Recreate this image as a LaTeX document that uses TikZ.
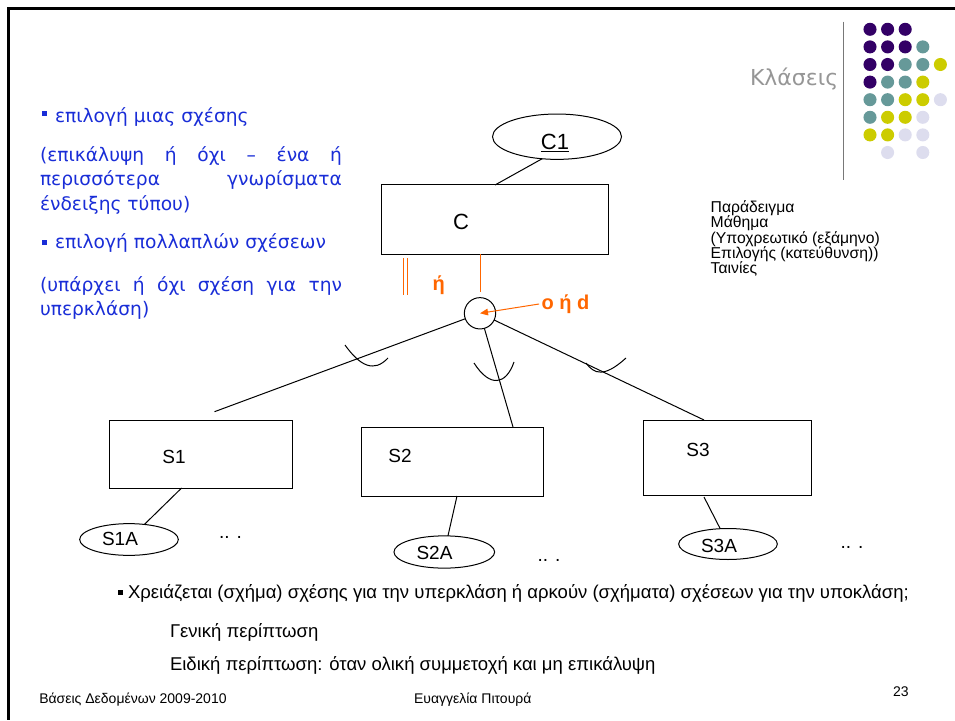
\documentclass[tikz,border=0pt]{standalone}
\usepackage{fontspec}
\setmainfont{Liberation Sans}
\newfontfamily\handfont{DejaVu Sans}
\usetikzlibrary{arrows.meta,shapes.geometric}

\definecolor{slideblue}{RGB}{25,45,215}
\definecolor{hiorange}{RGB}{255,102,0}
\definecolor{dotpurple}{RGB}{51,0,102}
\definecolor{dotteal}{RGB}{102,153,153}
\definecolor{dotyellow}{RGB}{204,204,0}
\definecolor{dotlilac}{RGB}{221,221,238}
\definecolor{titlegray}{RGB}{150,150,150}
\definecolor{rulegray}{RGB}{120,120,120}

\begin{document}
\begin{tikzpicture}[x=0.75pt,y=-0.75pt,
  every node/.style={inner sep=0pt,outer sep=0pt},
  entity/.style={draw,line width=0.75pt,rectangle},
  attr/.style={draw,line width=0.75pt,ellipse},
  link/.style={line width=0.75pt},
  hl/.style={draw=hiorange,line width=0.75pt},
  bluetxt/.style={anchor=base west,text=slideblue,font=\handfont\fontsize{14}{16}\selectfont},
  diagtxt/.style={anchor=base,font=\fontsize{14.25}{17}\selectfont},
  bigtxt/.style={anchor=base,font=\fontsize{16.5}{19}\selectfont},
  hltxt/.style={anchor=base west,text=hiorange,font=\bfseries\fontsize{15}{17}\selectfont},
  bodytxt/.style={anchor=base west,font=\fontsize{13.9}{16}\selectfont},
  notetxt/.style={anchor=base west,font=\fontsize{11.8}{12}\selectfont},
  foottxt/.style={anchor=base west,font=\fontsize{10.5}{12}\selectfont},
  dot/.style={circle,minimum size=9.8pt}
]
\useasboundingbox (0,0) rectangle (955,720);

% slide frame
\draw[line width=2.5pt] (955,8.3) -- (8.3,8.3) -- (8.3,720);

% title and decoration
\node[anchor=base west,text=titlegray,font=\handfont\fontsize{16.5}{19}\selectfont] (title) at (750,86) {Κλάσεις};
\draw[rulegray,line width=1pt] (843.3,21.7) -- (843.3,180);
\foreach \c/\r/\col in {
  1/1/dotpurple,2/1/dotpurple,3/1/dotpurple,
  1/2/dotpurple,2/2/dotpurple,3/2/dotpurple,4/2/dotteal,
  1/3/dotpurple,2/3/dotpurple,3/3/dotteal,4/3/dotteal,5/3/dotyellow,
  1/4/dotpurple,2/4/dotteal,3/4/dotteal,4/4/dotyellow,
  1/5/dotteal,2/5/dotteal,3/5/dotyellow,4/5/dotyellow,5/5/dotlilac,
  1/6/dotteal,2/6/dotyellow,3/6/dotyellow,4/6/dotlilac,
  1/7/dotyellow,2/7/dotyellow,3/7/dotlilac,4/7/dotlilac,
  2/8/dotlilac,4/8/dotlilac}
  \node[dot,fill=\col] (dot-\c-\r) at ({870+(\c-1)*17.6},{29.3+(\r-1)*17.6}) {};

% left column of notes
\fill[slideblue] (41.7,111.5) rectangle (46.7,116.5);
\node[bluetxt] (b1) at (55,123) {επιλογή μιας σχέσης};
\node[bluetxt] (b2) at (40,161.5) {\makebox[226.5pt][s]{(επικάλυψη ή όχι – ένα ή}};
\node[bluetxt] (b3) at (40,186) {\makebox[226.5pt][s]{περισσότερα γνωρίσματα}};
\node[bluetxt] (b4) at (40,210.5) {ένδειξης τύπου)};
\fill[slideblue] (41.7,240) rectangle (46.7,245);
\node[bluetxt] (b5) at (55,248) {επιλογή πολλαπλών σχέσεων};
\node[bluetxt] (b6) at (40,291.5) {\makebox[226.5pt][s]{(υπάρχει ή όχι σχέση για την}};
\node[bluetxt] (b7) at (40,315) {υπερκλάση)};

% example list
\foreach \txt [count=\i] in {Παράδειγμα,Μάθημα,(Υποχρεωτικό (εξάμηνο),Επιλογής (κατεύθυνση)),Ταινίες}
  \node[notetxt] (note\i) at ({710.7},{212.7+15.2*(\i-1)}) {\txt};

% superclass
\node[attr,minimum width=96.75pt,minimum height=34pt] (c1) at (557,136.7) {};
\node[bigtxt] (c1t) at (555,149.3) {\underline{C1}};
\node[entity,minimum width=170pt,minimum height=51.75pt] (c) at (495,219.5) {};
\node[bigtxt] (ct) at (461,229.3) {C};
\draw[link] (c1.236) -- (c.north);

% specialisation circle
\node[draw,circle,line width=0.75pt,minimum size=23.5pt] (isa) at (480,313.3) {};
\draw[hl,shorten >=4.4pt] (c.south -| isa.north) -- (isa.north);
\draw[hl,double,double distance=2.25pt] (405.3,258) -- (405.3,295);
\node[hltxt] (orlabel) at (432.5,290) {ή};
\node[hltxt] (ohd) at (541.7,309.3) {o ή d};
\draw[hl,-{Triangle[length=6pt,width=5pt]}] ([xshift=-2pt]ohd.west) -- (isa.center);

% subclasses
\node[entity,minimum width=136.9pt,minimum height=51pt] (s1) at (200.75,454) {};
\node[diagtxt] (s1t) at (174,463.3) {S1};
\node[entity,minimum width=136.5pt,minimum height=51.75pt] (s2) at (452,461.5) {};
\node[diagtxt] (s2t) at (400,462.7) {S2};
\node[entity,minimum width=126pt,minimum height=56.25pt] (s3) at (727,457.5) {};
\node[diagtxt] (s3t) at (698,456) {S3};

\coordinate (s1end) at (214.5,411.7);
\coordinate (s2top) at (513,427);
\coordinate (s3top) at (704,420);
\draw[link] (isa) -- (s1end);
\draw[link] (isa) -- (s2top);
\draw[link] (isa) -- (s3top);

% subset marks
\draw[link] (345,345) .. controls (360,366) and (374,373) .. (388,358);
\draw[link] (474,363) .. controls (490,388) and (506,385) .. (514,362);
\draw[link] (586,363) .. controls (594,374) and (604,378) .. (626,358);

% subclass attributes
\node[attr,minimum width=74pt,minimum height=23.8pt] (s1a) at (129,539.5) {};
\node[diagtxt] (s1at) at (120,545) {S1A};
\node[attr,minimum width=75.5pt,minimum height=24.2pt] (s2a) at (444.3,552) {};
\node[diagtxt] (s2at) at (434.5,559) {S2A};
\node[attr,minimum width=74pt,minimum height=23.25pt] (s3a) at (728,544) {};
\node[diagtxt] (s3at) at (719,552) {S3A};

\coordinate (s1foot) at (181.6,488);
\coordinate (s2foot) at (457,496);
\coordinate (s3foot) at (704,497);
\draw[link] (s1foot) -- (s1a);
\draw[link] (s2foot) -- (s2a);
\draw[link] (s3foot) -- (s3a);

\node[diagtxt] (more1) at (230.5,538.5) {.. .};
\node[diagtxt] (more2) at (549,561.5) {.. .};
\node[diagtxt] (more3) at (852,548.5) {.. .};

% question below the diagram
\fill (118,589.5) rectangle (123,594.5);
\node[bodytxt] (q) at (128,598) {Χρειάζεται (σχήμα) σχέσης για την υπερκλάση ή αρκούν (σχήματα) σχέσεων για την υποκλάση;};
\node[bodytxt] (g1) at (170,637) {Γενική περίπτωση};
\node[bodytxt] (g2) at (170,670) {Ειδική περίπτωση: όταν ολική συμμετοχή και μη επικάλυψη};

% footer
\node[foottxt] (f1) at (39.3,703.3) {Βάσεις Δεδομένων 2009-2010};
\node[foottxt] (f2) at (414,703.3) {Ευαγγελία Πιτουρά};
\node[foottxt] (f3) at (893,696) {23};
\end{tikzpicture}
\end{document}
